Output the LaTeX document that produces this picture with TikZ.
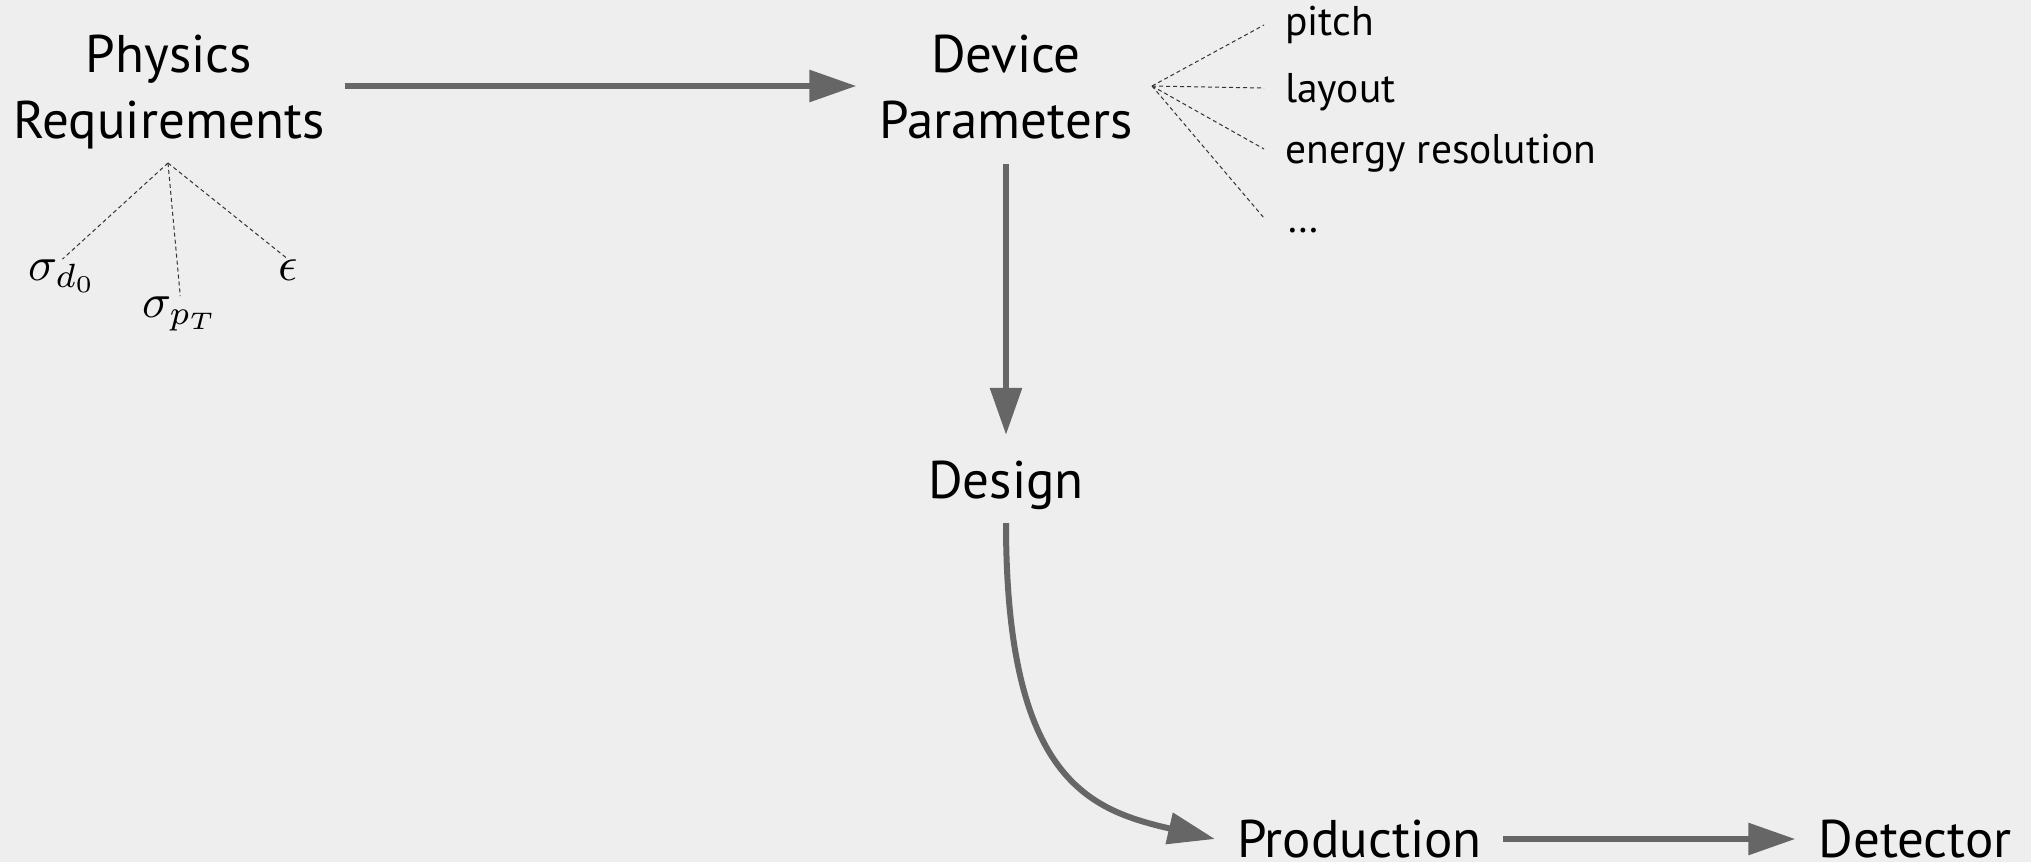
\documentclass[tikz,border=0pt]{standalone}
\usepackage{graphicx}
\usepackage{fontspec}
\setmainfont{PT Sans}
\usetikzlibrary{arrows.meta,calc}
\definecolor{bgc}{HTML}{EEEEEE}
\definecolor{arrc}{HTML}{666666}
\definecolor{fanc}{HTML}{333333}
\newcommand{\bigmath}[1]{\scalebox{4.8}{$#1$}}
\begin{document}
\begin{tikzpicture}[x=1pt,y=-1pt,
  bigtxt/.style={font=\fontsize{53}{66}\selectfont, inner sep=0pt, align=center, anchor=base},
  onetxt/.style={font=\fontsize{53}{66}\selectfont, inner sep=0pt, anchor=base, text height=36pt, text depth=0pt},
  smalltxt/.style={font=\fontsize{41.5}{50}\selectfont, inner sep=0pt, anchor=base west, text height=28pt, text depth=0pt},
  mathtxt/.style={inner sep=0pt, anchor=base west},
  arr/.style={draw=arrc, line width=6pt, -{Triangle[length=47pt,width=31pt]}},
  fan/.style={draw=fanc, line width=1pt, dash pattern=on 4pt off 3pt}]
\fill[bgc] (0,0) rectangle (2031,862);
\useasboundingbox (0,0) rectangle (2031,862);

\node[bigtxt] (phys) at (169,138) {Physics\\Requirements};
\node[bigtxt] (dev) at (1006,138) {Device\\Parameters};
\node[onetxt] (design) at (1006,498) {Design};
\node[onetxt] (prod) at (1359.5,857) {Production};
\node[onetxt] (det) at (1915,857) {Detector};

\node[smalltxt] (pitch) at (1285,35) {pitch};
\node[smalltxt] (layout) at (1285,102) {layout};
\node[smalltxt] (eres) at (1285,163) {energy resolution};
\node[smalltxt] (dots) at (1287,232) {…};

\node[mathtxt] (sd) at (28,280) {\bigmath{\sigma_{d_0}}};
\node[mathtxt] (sp) at (142,317) {\bigmath{\sigma_{p_T}}};
\node[mathtxt] (ep) at (278,280) {\bigmath{\epsilon}};

\coordinate (r1) at (0,86);
\coordinate (pf) at (168,163);
\coordinate (df) at (1152,86);

\draw[arr] ($(phys.east|-r1)+(20,0)$) -- ($(dev.west|-r1)+(-23,0)$);
\draw[arr] ($(dev.south)+(0,25)$) -- ($(design.north)+(0,-27)$);
\draw[arr] ($(design.south)+(0,25)$) .. controls +(0,257) and +(-125,-29) .. ($(prod.west)+(-22,0)$);
\draw[arr] ($(prod.east)+(21,0)$) -- ($(det.west)+(-23,0)$);

\draw[fan] (pf) -- (sd.north);
\draw[fan] (pf) -- (sp.north);
\draw[fan] (pf) -- (ep.north);

\draw[fan] (df) -- ($(pitch.west)+(-21,4)$);
\draw[fan] (df) -- ($(layout.west)+(-21,0)$);
\draw[fan] (df) -- ($(eres.west)+(-21,0)$);
\draw[fan] (df) -- ($(dots.west)+(-23,0)$);
\end{tikzpicture}
\end{document}
